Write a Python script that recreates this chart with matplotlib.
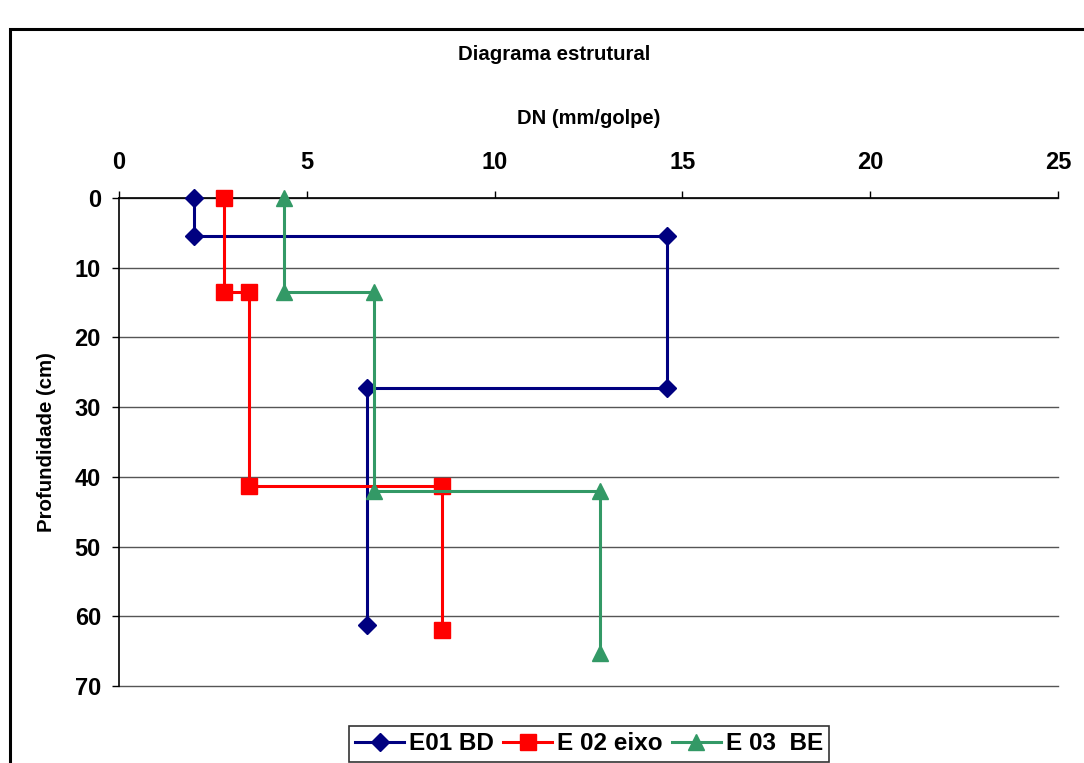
import matplotlib
matplotlib.use("Agg")
import matplotlib.pyplot as plt
from matplotlib.patches import Rectangle

plt.rcParams['font.family'] = ['Liberation Sans', 'DejaVu Sans']
plt.rcParams['font.weight'] = 'bold'

# DN (mm/golpe) versus depth (cm) for each test point
e01_dn = [2.0, 2.0, 14.6, 14.6, 6.6, 6.6]
e01_depth = [0.0, 5.5, 5.5, 27.3, 27.3, 61.2]

e02_dn = [2.8, 2.8, 3.47, 3.47, 8.6, 8.6]
e02_depth = [0.0, 13.5, 13.5, 41.3, 41.3, 62.0]

e03_dn = [4.4, 4.4, 6.8, 6.8, 12.8, 12.8]
e03_depth = [0.0, 13.5, 13.5, 42.0, 42.0, 65.2]

series_labels = ["E01 BD", "E 02 eixo", "E 03  BE"]
x_ticks = [0, 5, 10, 15, 20, 25]
y_ticks = [0, 10, 20, 30, 40, 50, 60, 70]

W, H = 1084, 763
fig = plt.figure(figsize=(W / 100, H / 100), dpi=100)
fig.patch.set_facecolor('white')

# outer frame of the chart area
fig.patches.append(Rectangle((10 / W, -0.2), 1.5, 0.2 + 1 - 29 / H,
                             transform=fig.transFigure, fill=False,
                             edgecolor='black', linewidth=2.2))

left, right, top, bottom = 119, 1058, 198, 686
ax = fig.add_axes([left / W, 1 - bottom / H, (right - left) / W, (bottom - top) / H])

ax.plot(e01_dn, e01_depth, color='#000080', lw=2.2, marker='D', ms=9,
        label=series_labels[0], zorder=3, clip_on=False)
ax.plot(e02_dn, e02_depth, color='#FF0000', lw=2.2, marker='s', ms=12,
        label=series_labels[1], zorder=3, clip_on=False)
ax.plot(e03_dn, e03_depth, color='#339966', lw=2.2, marker='^', ms=12,
        label=series_labels[2], zorder=3, clip_on=False)

ax.set_xlim(0, 25)
ax.set_ylim(70, 0)
ax.set_xticks(x_ticks)
ax.set_yticks(y_ticks)
ax.xaxis.tick_top()
ax.tick_params(axis='both', labelsize=17, direction='out', length=5,
               width=1, color='black')
ax.tick_params(axis='x', pad=12)
ax.tick_params(axis='y', pad=8)
for lab in ax.get_xticklabels() + ax.get_yticklabels():
    lab.set_fontweight('bold')

ax.yaxis.grid(True, color='#555555', lw=1)
for gl in ax.yaxis.get_gridlines():
    gl.set_clip_on(False)
ax.set_axisbelow(True)
for s in ['right', 'bottom']:
    ax.spines[s].set_visible(False)
ax.spines['top'].set_linewidth(1.2)
ax.spines['left'].set_linewidth(1.2)

fig.text(589 / W, 1 - 118 / H, "DN (mm/golpe)", ha='center', va='center',
         fontsize=14.5, fontweight='bold')
fig.text(47 / W, 1 - 442 / H, "Profundidade (cm)", ha='center', va='center',
         rotation=90, fontsize=14.7, fontweight='bold')
fig.text(554 / W, 1 - 55 / H, "Diagrama estrutural", ha='center', va='center',
         fontsize=14.7, fontweight='bold')

leg = fig.legend(loc='center', bbox_to_anchor=(589 / W, 1 - 744 / H), ncol=3,
                 fontsize=17.5, frameon=True, fancybox=False, edgecolor='black',
                 handlelength=2.0, handletextpad=0.2, columnspacing=0.4,
                 borderpad=0.25, borderaxespad=0)
leg.get_frame().set_linewidth(1.2)
for t in leg.get_texts():
    t.set_fontweight('bold')

fig.savefig("out.png", dpi=100, facecolor='white')
